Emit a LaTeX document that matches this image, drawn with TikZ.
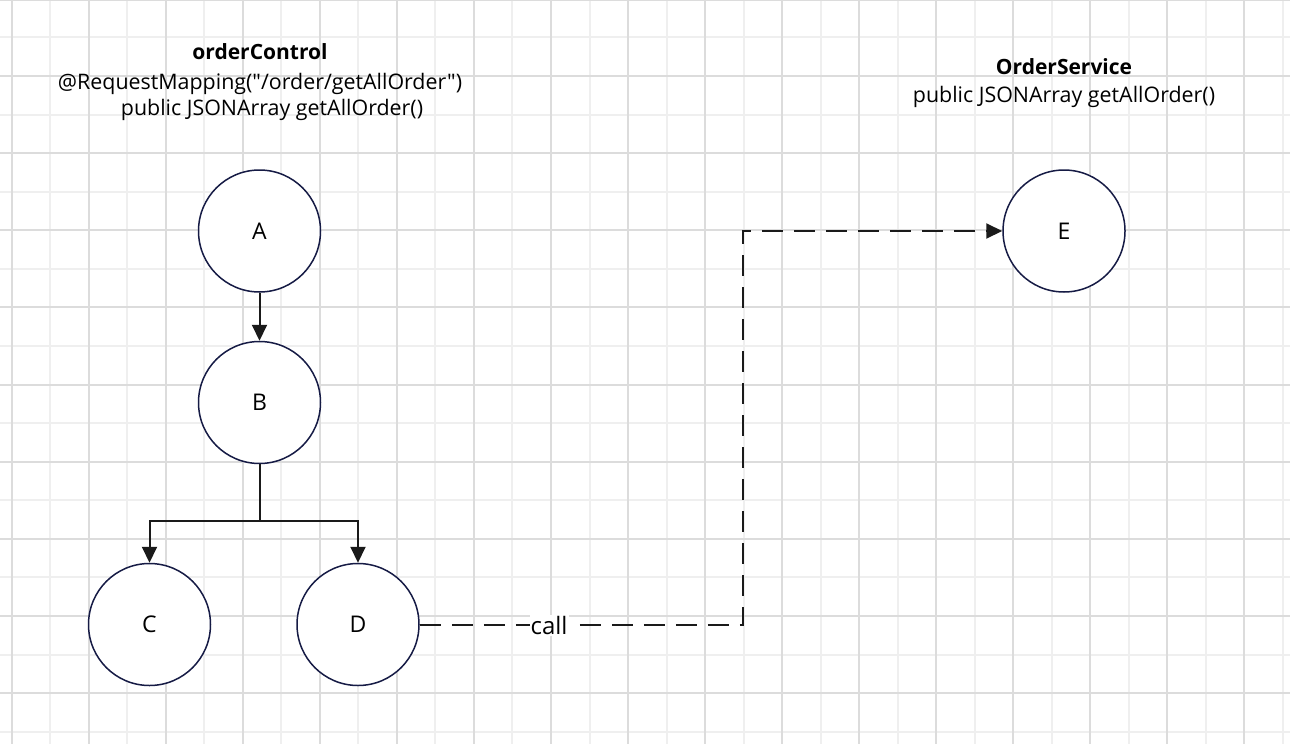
\documentclass[tikz,border=0pt]{standalone}
\usepackage{fontspec}
\setmainfont{Open Sans}[Ligatures=TeXOff]
\usetikzlibrary{arrows.meta}
\definecolor{gridmajor}{HTML}{DCDCDC}
\definecolor{gridminor}{HTML}{EFEFEF}
\definecolor{ringcol}{HTML}{161B45}
\definecolor{linecol}{HTML}{1A1A1A}
\tikzset{
  circnode/.style={circle, draw=ringcol, line width=1.5pt, fill=white, minimum size=122pt, inner sep=0pt, font=\fontsize{23}{26}\selectfont},
  headbold/.style={inner sep=0pt, font=\fontsize{21}{26}\selectfont\bfseries},
  headtext/.style={inner sep=0pt, font=\fontsize{21.4}{26}\selectfont},
  conn/.style={draw=linecol, line width=2pt, -{Triangle[length=16pt,width=15pt]}},
  dashconn/.style={conn, dash pattern=on 21pt off 11pt},
  lbl/.style={fill=white, inner sep=1pt, font=\fontsize{24}{26}\selectfont},
  gmaj/.style={gridmajor, line width=1.8pt},
  gmin/.style={gridminor, line width=1.8pt},
}
\begin{document}
\begin{tikzpicture}[x=1pt,y=-1pt]
\useasboundingbox (0,0) rectangle (1290,744);
\fill[white] (0,0) rectangle (1290,744);
% grid minor
\foreach \x in {50,127,204,281,358,435,512,590,667,744,821,898,975,1052,1129,1206,1283} {
  \draw[gmin] (\x,0) -- (\x,744);
}
\foreach \y in {37,115,192,269,346,423,500,577,655,732} {
  \draw[gmin] (0,\y) -- (1290,\y);
}
% grid major
\foreach \x in {12,89,166,243,320,397,474,551,628,705,782,859,936,1013,1090,1167,1244} {
  \draw[gmaj] (\x,0) -- (\x,744);
}
\foreach \y in {0,76,153,230,307,385,462,539,616,693} {
  \draw[gmaj] (0,\y) -- (1290,\y);
}
% headers
\node[headbold] (h1) at (260,52) {orderControl};
\node[headtext] (h2) at (260,84) {@RequestMapping("/order/getAllOrder")};
\node[headtext] (h3) at (272,110) {public JSONArray getAllOrder()};
\node[headbold] (s1) at (1064,67) {OrderService};
\node[headtext] (s2) at (1064,97) {public JSONArray getAllOrder()};
% circles
\node[circnode] (A) at (259.5,231) {A};
\node[circnode] (B) at (259.5,402.5) {B};
\node[circnode] (C) at (149.5,624.5) {C};
\node[circnode] (D) at (358,624.5) {D};
\node[circnode] (E) at (1064,231) {E};
% connectors
\coordinate (split) at (259.5,520.5);
\coordinate (bend) at (743,624.5);
\draw[conn] (A.south) -- (B.north);
\draw[conn] (B.south) -- (split) -| (C.north);
\draw[conn] (B.south) -- (split) -| (D.north);
\draw[dashconn] (D.east) -- node[lbl, pos=0.40, yshift=-1pt] (call) {call} (bend) |- (E.west);
\end{tikzpicture}
\end{document}
